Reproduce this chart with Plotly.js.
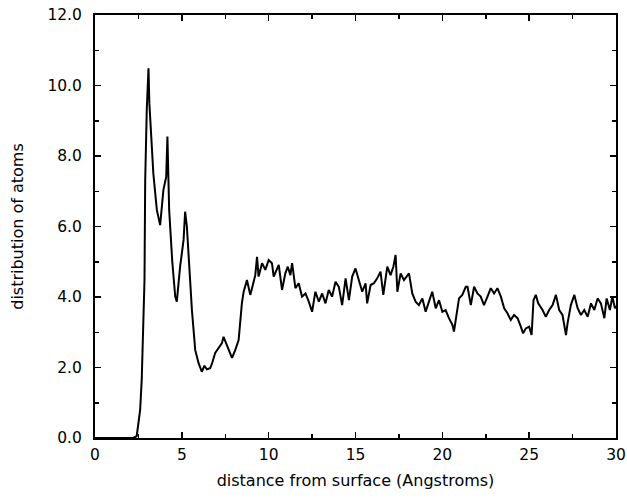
<!DOCTYPE html>
<html>
<head>
<meta charset="utf-8">
<script src="https://cdn.plot.ly/plotly-3.0.1.min.js"></script>
<style>html,body{margin:0;padding:0;background:#fff;}#chart{width:627px;height:499px;}</style>
</head>
<body>
<div id="chart"></div>
<script>
var distance = [0, 2.2, 2.4, 2.6, 2.69, 2.79, 2.85, 2.89, 2.98, 3.08, 3.13, 3.36, 3.56, 3.75, 3.94, 4.1, 4.17, 4.27, 4.45, 4.62, 4.71, 4.9, 5.1, 5.19, 5.29, 5.58, 5.77, 5.96, 6.15, 6.3, 6.44, 6.63, 6.73, 6.92, 7.21, 7.31, 7.4, 7.5, 7.6, 7.89, 8.08, 8.27, 8.46, 8.56, 8.75, 8.94, 9.04, 9.23, 9.33, 9.42, 9.62, 9.81, 10.0, 10.19, 10.29, 10.58, 10.77, 10.96, 11.1, 11.25, 11.35, 11.54, 11.73, 11.92, 12.12, 12.31, 12.5, 12.69, 12.89, 13.08, 13.27, 13.46, 13.65, 13.85, 14.04, 14.23, 14.43, 14.62, 14.81, 15.0, 15.19, 15.39, 15.58, 15.67, 15.87, 16.06, 16.25, 16.44, 16.6, 16.73, 16.83, 17.02, 17.18, 17.31, 17.41, 17.6, 17.79, 18.08, 18.27, 18.46, 18.65, 18.85, 19.04, 19.23, 19.42, 19.62, 19.81, 20.0, 20.19, 20.38, 20.58, 20.67, 20.83, 20.96, 21.15, 21.35, 21.45, 21.64, 21.83, 22.02, 22.21, 22.4, 22.6, 22.79, 22.98, 23.17, 23.37, 23.56, 23.75, 23.94, 24.13, 24.33, 24.52, 24.65, 24.81, 25.0, 25.14, 25.25, 25.38, 25.52, 25.77, 25.96, 26.15, 26.35, 26.54, 26.73, 26.92, 27.12, 27.21, 27.4, 27.6, 27.79, 27.98, 28.17, 28.37, 28.56, 28.75, 28.94, 29.13, 29.33, 29.46, 29.65, 29.79, 29.94, 30.0];
var atoms = [0, 0, 0.05, 0.8, 1.65, 3.06, 4.48, 7.3, 9.3, 10.49, 9.5, 7.5, 6.47, 6.04, 7.04, 7.41, 8.55, 6.47, 5.0, 4.01, 3.87, 4.86, 5.62, 6.42, 6.0, 3.63, 2.5, 2.13, 1.88, 2.05, 1.95, 1.98, 2.1, 2.41, 2.6, 2.69, 2.87, 2.75, 2.59, 2.27, 2.5, 2.78, 3.83, 4.15, 4.48, 4.06, 4.25, 4.62, 5.14, 4.58, 4.96, 4.77, 5.05, 4.96, 4.58, 4.91, 4.2, 4.67, 4.86, 4.62, 4.96, 4.25, 4.39, 4.01, 4.1, 3.87, 3.58, 4.15, 3.87, 4.1, 3.82, 4.2, 4.01, 4.43, 4.29, 3.77, 4.53, 3.91, 4.58, 4.81, 4.48, 4.15, 4.39, 3.82, 4.34, 4.39, 4.53, 4.72, 4.06, 4.53, 4.86, 4.62, 4.86, 5.19, 4.15, 4.67, 4.48, 4.67, 4.1, 3.87, 3.77, 3.96, 3.58, 3.87, 4.15, 3.68, 3.91, 3.58, 3.63, 3.4, 3.21, 3.02, 3.54, 3.96, 4.06, 4.29, 4.29, 3.77, 4.29, 4.1, 4.01, 3.77, 4.01, 4.25, 4.1, 4.25, 4.01, 3.68, 3.54, 3.35, 3.49, 3.4, 3.16, 2.97, 3.11, 3.16, 2.92, 3.91, 4.06, 3.82, 3.63, 3.44, 3.63, 3.77, 4.06, 3.63, 3.49, 2.92, 3.25, 3.77, 4.06, 3.68, 3.49, 3.63, 3.44, 3.82, 3.63, 3.96, 3.82, 3.4, 3.96, 3.63, 4.01, 3.68, 3.75];
var xTicks = [0, 5, 10, 15, 20, 25, 30];
var yTicks = [0, 2, 4, 6, 8, 10, 12];
var yTickText = ["0.0", "2.0", "4.0", "6.0", "8.0", "10.0", "12.0"];

var fam = "'DejaVu Sans', sans-serif";
var fnt = {family: fam, size: 15.5, color: "#000"};
var titleFont = {family: fam, size: 16, color: "#000"};
var axisCommon = {
  showgrid: false, zeroline: false, showline: true, linecolor: "#000", linewidth: 2,
  mirror: "ticks", ticks: "inside", ticklen: 6, tickwidth: 1.5, tickcolor: "#000",
  tickfont: fnt
};
var layout = {
  width: 627, height: 499,
  margin: {l: 95, r: 11, t: 15, b: 61},
  paper_bgcolor: "#fff", plot_bgcolor: "#fff",
  showlegend: false,
  xaxis: Object.assign({}, axisCommon, {
    range: [0, 30], tickmode: "array", tickvals: xTicks, ticktext: xTicks.map(String),
    ticklabelstandoff: 1,
    minor: {dtick: 2.5, ticks: "inside", ticklen: 4, tickwidth: 1.5, tickcolor: "#000"},
    title: {text: "distance from surface (Angstroms)", font: titleFont, standoff: 12}
  }),
  yaxis: Object.assign({}, axisCommon, {
    range: [0, 12], tickmode: "array", tickvals: yTicks, ticktext: yTickText,
    ticklabelstandoff: 8,
    minor: {dtick: 1, ticks: "inside", ticklen: 4, tickwidth: 1.5, tickcolor: "#000"},
    title: {text: "distribution of atoms", font: titleFont, standoff: 20}
  })
};
var trace = {x: distance, y: atoms, type: "scatter", mode: "lines", line: {color: "#000", width: 2}};
Plotly.newPlot("chart", [trace], layout, {displayModeBar: false, staticPlot: true});
</script>
</body>
</html>
